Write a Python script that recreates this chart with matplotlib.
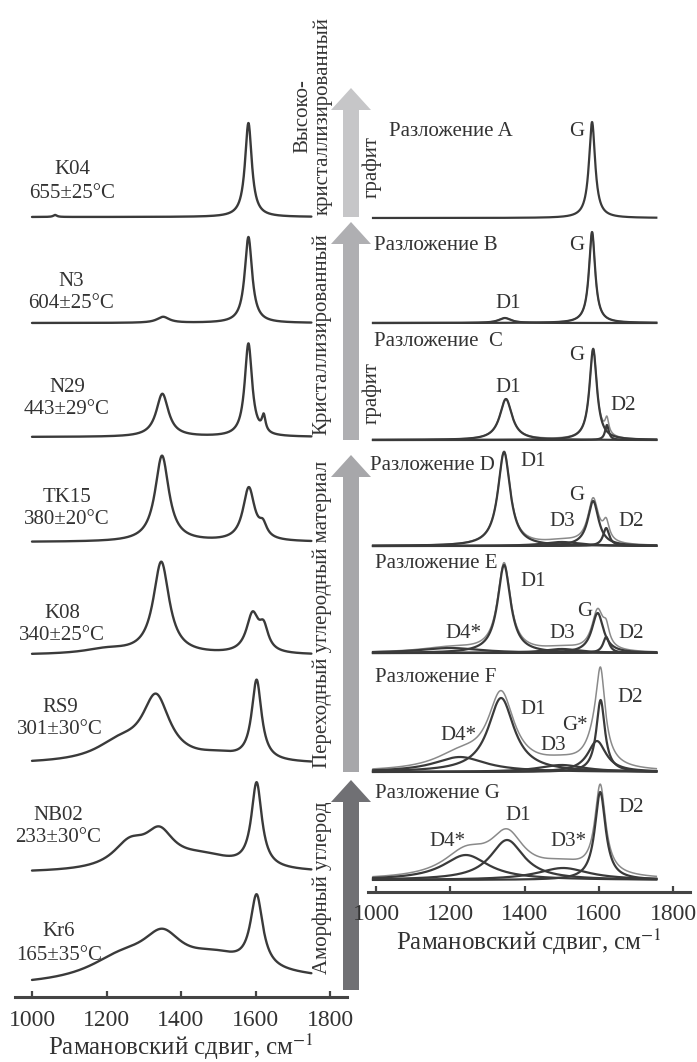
import numpy as np
import matplotlib
matplotlib.use("Agg")
import matplotlib.pyplot as plt
from matplotlib.patches import FancyArrow

plt.rcParams["font.family"] = ["Liberation Serif", "DejaVu Serif"]
plt.rcParams["mathtext.fontset"] = "stix"

# ---------------- data ----------------
# Measured spectra (left column): band = (centre cm-1, height, FWHM cm-1)
sample_names = ["K04", "N3", "N29", "TK15", "K08", "RS9", "NB02", "Kr6"]
sample_temps = ["655±25°C", "604±25°C", "443±29°C", "380±20°C",
                "340±25°C", "301±30°C", "233±30°C", "165±35°C"]
bands_K04 = [(1581, 94, 22), (1062, 2, 12)]
bands_N3 = [(1581, 86, 24), (1352, 6, 40)]
bands_N29 = [(1581, 93, 24), (1350, 43, 40), (1622, 16, 12)]
bands_TK15 = [(1349, 86, 45), (1582, 53, 38), (1620, 12, 25)]
bands_K08 = [(1347, 92, 52), (1592, 38, 40), (1622, 22, 30), (1200, 5, 150)]
bands_RS9 = [(1333, 62, 90), (1235, 18, 160), (1500, 6, 140), (1603, 80, 32)]
bands_NB02 = [(1262, 24, 110), (1342, 32, 95), (1460, 14, 220), (1603, 84, 34)]
bands_Kr6 = [(1240, 22, 220), (1350, 36, 130), (1490, 18, 200), (1603, 72, 40),
             (1650, 10, 700)]
sample_bands = [bands_K04, bands_N3, bands_N29, bands_TK15,
                bands_K08, bands_RS9, bands_NB02, bands_Kr6]

# Decompositions (right column): component = (name, centre, height, FWHM)
decomp_titles = ["Разложение A", "Разложение B", "Разложение  C", "Разложение D",
                 "Разложение E", "Разложение F", "Разложение G"]
decomp_A = [("G", 1582, 96, 20)]
decomp_B = [("G", 1582, 91, 20), ("D1", 1347, 5, 40)]
decomp_C = [("G", 1585, 91, 24), ("D1", 1350, 41, 40), ("D2", 1622, 15, 12)]
decomp_D = [("D1", 1345, 94, 40), ("G", 1585, 45, 35), ("D2", 1620, 18, 20),
            ("D3", 1500, 4, 120)]
decomp_E = [("D1", 1345, 88, 42), ("G", 1597, 40, 38), ("D2", 1620, 16, 20),
            ("D4*", 1200, 5, 200), ("D3", 1500, 4, 120)]
decomp_F = [("D1", 1337, 74, 85), ("D4*", 1226, 15, 170), ("D3", 1500, 7, 150),
            ("G*", 1595, 31, 60), ("D2", 1605, 72, 28)]
decomp_G = [("D1", 1353, 40, 110), ("D4*", 1242, 25, 150), ("D3*", 1504, 12, 170),
            ("D2", 1604, 88, 35)]
decomps = [decomp_A, decomp_B, decomp_C, decomp_D, decomp_E, decomp_F, decomp_G]

ticks = [1000, 1200, 1400, 1600, 1800]

# ---------------- layout (pixels) ----------------
W, H = 697, 1062
left_baselines = [780, 674, 560, 455, 342, 233, 124, 9]
right_baselines = [674, 569, 452, 346, 239, 120, 12]
left_label_pos = [(72, 170), (71, 281), (67, 387), (67, 497),
                  (62, 613), (60, 707), (58, 815), (59, 932)]

# peak labels in right column: (text, x px, y px)
peak_labels = [
    [("G", 577, 132)],
    [("G", 577, 245), ("D1", 508, 303)],
    [("G", 577, 356), ("D1", 508, 387), ("D2", 623, 405)],
    [("D1", 533, 462), ("G", 577, 495), ("D3", 562, 521), ("D2", 631, 521)],
    [("D1", 533, 582), ("G", 585, 612), ("D3", 562, 633), ("D2", 631, 633),
     ("D4*", 463, 633)],
    [("D1", 533, 710), ("D2", 630, 697), ("G*", 575, 725), ("D3", 553, 745),
     ("D4*", 458, 735)],
    [("D1", 518, 815), ("D2", 631, 807), ("D4*", 447, 842), ("D3*", 568, 842)],
]
title_pos = [(389, 132), (374, 245), (374, 342), (370, 465),
             (375, 564), (375, 677), (375, 793)]

line_col = "#3a3a3a"
text_col = "#333333"
FS = 15


def lorentz(x, c, h, w):
    return h / (1.0 + ((x - c) / (w / 2.0)) ** 2)


fig = plt.figure(figsize=(W / 100, H / 100), dpi=100)

# overlay in pixel coordinates for arrows and captions
ov = fig.add_axes([0, 0, 1, 1], zorder=0)
ov.set_xlim(0, W)
ov.set_ylim(H, 0)
ov.axis("off")


def style_axis(ax):
    for s in ["left", "right", "top"]:
        ax.spines[s].set_visible(False)
    ax.spines["bottom"].set_color("#444444")
    ax.spines["bottom"].set_linewidth(2.2)
    ax.set_yticks([])
    ax.set_xticks(ticks)
    ax.tick_params(axis="x", direction="in", length=4, width=1.6,
                   color="#444444", labelsize=17, labelcolor=text_col, pad=9)
    ax.patch.set_alpha(0)
    ax.set_xlabel("Рамановский сдвиг, см$^{-1}$", fontsize=18, color=text_col,
                  labelpad=1)


# ---- left column: measured spectra ----
axL = fig.add_axes([15 / W, (H - 997) / H, 332 / W, 997 / H], zorder=1)
pxL = 298 / 800
axL.set_xlim(1000 - 17 / pxL, 1800 + 17 / pxL)
axL.set_ylim(0, 997)
style_axis(axL)
xl = np.linspace(1000, 1750, 1500)
for bands, base in zip(sample_bands, left_baselines):
    y = np.full_like(xl, base, dtype=float)
    for c, h, w in bands:
        y += lorentz(xl, c, h, w)
    axL.plot(xl, y, color=line_col, lw=1.7, solid_capstyle="round")

for name, temp, (x, y) in zip(sample_names, sample_temps, left_label_pos):
    ov.text(x, y, name, ha="center", va="center", fontsize=FS, color=text_col)
    ov.text(x, y + 23, temp, ha="center", va="center", fontsize=FS, color=text_col)

# ---- right column: decompositions ----
axR = fig.add_axes([368 / W, (H - 892) / H, 322 / W, 812 / H], zorder=1)
pxR = 297 / 800
axR.set_xlim(1000 - 8 / pxR, 1800 + 17 / pxR)
axR.set_ylim(0, 812)
style_axis(axR)
xr = np.linspace(992, 1755, 1500)
for comps, base in zip(decomps, right_baselines):
    total = np.full_like(xr, base, dtype=float)
    for _, c, h, w in comps:
        total += lorentz(xr, c, h, w)
    if len(comps) > 1:
        axR.plot(xr, total, color="#8a8a8a", lw=1.1, zorder=2)
    for _, c, h, w in comps:
        axR.plot(xr, base + lorentz(xr, c, h, w), color=line_col, lw=1.6, zorder=3)

for title, (x, y) in zip(decomp_titles, title_pos):
    ov.text(x, y, title, ha="left", va="center", fontsize=FS, color=text_col,
            zorder=5)
for group in peak_labels:
    for t, x, y in group:
        ov.text(x, y, t, ha="center", va="center", fontsize=FS, color=text_col,
                zorder=5)

# ---- arrows of the metamorphic sequence ----
arrows = [(217, 88, "#c6c6c8"), (440, 222, "#afafb2"),
          (772, 455, "#a7a7aa"), (990, 780, "#707074")]
for y0, y1, col in arrows:
    ov.add_patch(FancyArrow(351, y0, 0, y1 - y0, width=16, head_width=40,
                            head_length=22, length_includes_head=True,
                            color=col, lw=0, zorder=1))

vtexts = [("Высоко-", 303, 116), ("кристаллизированный", 323, 116),
          ("графит", 372, 167), ("Кристаллизированный", 322, 334),
          ("графит", 372, 393), ("Переходный углеродный материал", 322, 614),
          ("Аморфный углерод", 322, 888)]
for t, x, y in vtexts:
    ov.text(x, y, t, rotation=90, ha="center", va="center", fontsize=FS,
            color=text_col, zorder=5)

fig.savefig("out.png", dpi=100, facecolor="white")
